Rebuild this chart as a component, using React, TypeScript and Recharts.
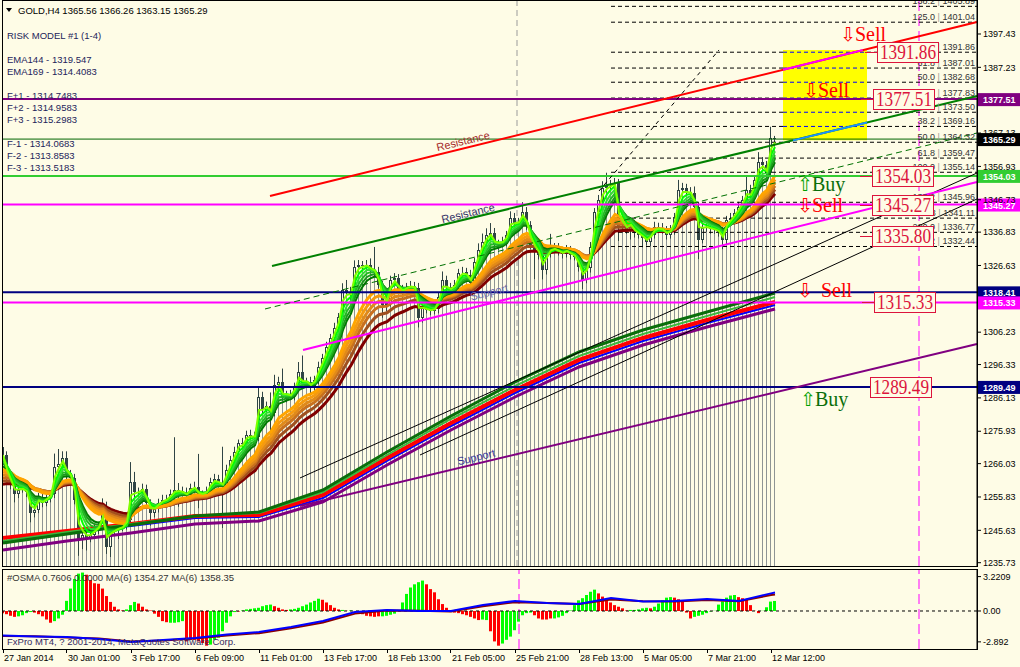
import React from 'react';
import { ComposedChart, Bar, Line, XAxis, YAxis, ReferenceLine, ReferenceArea, ReferenceDot, Cell } from 'recharts';

const BG = '#FEFCE6';
const WICK = '#2F4444';
const FONT = '"Liberation Sans", Arial, sans-serif';
const SERIF = '"Liberation Serif", "Times New Roman", serif';

const Y_MIN = 1234.72;
const Y_MAX = 1407.52;
const X_MIN = -0.25;
const X_MAX = 243.5;

// GOLD H4 candles, bar 0 = 27 Jan 2014 (open of bar n = close of bar n-1)
const firstOpen = 1271.0;
const closes = [
  1268.8, 1262.0, 1259.6, 1256.6, 1258.1, 1258.4, 1257.2, 1251.0, 1252.0, 1255.9, 1254.1, 1255.6, 1256.6, 1265.1, 1266.0, 1267.8,
  1262.6, 1261.7, 1255.0, 1242.8, 1244.3, 1243.4, 1244.3, 1245.9, 1247.1, 1251.4, 1240.4, 1245.2, 1245.9, 1246.5, 1246.8, 1248.9,
  1260.5, 1257.2, 1257.5, 1258.4, 1254.1, 1251.0, 1252.2, 1254.1, 1255.0, 1255.3, 1256.6, 1258.1, 1257.8, 1257.2, 1256.3, 1258.7,
  1259.0, 1256.3, 1256.6, 1257.5, 1260.5, 1261.4, 1260.2, 1259.3, 1264.2, 1267.2, 1269.7, 1272.4, 1272.1, 1274.9, 1274.6, 1274.3,
  1286.5, 1282.5, 1283.8, 1281.6, 1290.2, 1291.1, 1286.2, 1287.1, 1286.8, 1289.6, 1294.1, 1290.8, 1291.1, 1289.6, 1291.7, 1295.7,
  1298.4, 1301.8, 1304.5, 1307.6, 1310.9, 1319.2, 1318.6, 1318.0, 1326.2, 1326.8, 1326.5, 1326.8, 1325.3, 1324.7, 1320.7, 1314.6,
  1315.2, 1322.3, 1322.8, 1319.2, 1318.3, 1320.1, 1320.4, 1319.8, 1310.6, 1313.7, 1313.1, 1312.8, 1313.4, 1317.1, 1322.3, 1320.1,
  1319.2, 1320.7, 1324.4, 1324.7, 1323.8, 1321.3, 1327.8, 1331.4, 1333.9, 1336.0, 1336.6, 1332.9, 1333.3, 1333.9, 1336.0, 1341.2,
  1339.7, 1340.0, 1343.0, 1339.0, 1332.9, 1331.4, 1329.9, 1325.3, 1330.2, 1332.3, 1332.0, 1330.8, 1330.2, 1331.4, 1329.9, 1329.3,
  1326.2, 1322.3, 1325.9, 1332.3, 1343.0, 1346.7, 1350.4, 1351.0, 1351.3, 1351.9, 1338.1, 1338.8, 1337.5, 1339.4, 1336.6, 1336.0,
  1335.1, 1333.9, 1336.0, 1338.5, 1338.1, 1337.5, 1336.0, 1337.5, 1341.5, 1349.8, 1350.4, 1349.1, 1348.8, 1344.6, 1334.5, 1338.1,
  1338.5, 1337.8, 1337.5, 1336.9, 1334.5, 1340.6, 1341.2, 1342.7, 1344.6, 1346.7, 1349.8, 1348.2, 1352.8, 1358.3, 1357.4, 1354.9,
  1365.56, 1365.29,
];
const upWick = [
  4.0, 1.0, 1.5, 1.2, 1.5, 1.0, 1.2, 1.0, 1.5, 1.2, 1.0, 1.5, 1.2, 4.0, 4.5, 2.0,
  2.0, 1.5, 1.2, 1.0, 1.5, 1.2, 1.5, 1.5, 1.2, 4.0, 3.0, 1.2, 1.5, 1.0, 1.2, 1.5,
  6.0, 3.0, 1.2, 1.5, 1.2, 1.0, 1.5, 1.2, 1.5, 1.2, 1.5, 16.0, 2.0, 1.2, 1.5, 1.2,
  1.5, 10.0, 1.2, 1.5, 1.2, 1.5, 1.2, 11.0, 1.5, 1.2, 1.5, 1.0, 1.5, 1.2, 1.5, 1.2,
  3.0, 1.5, 1.2, 4.0, 3.0, 1.5, 4.0, 1.2, 1.5, 1.2, 3.0, 5.0, 1.2, 1.5, 1.2, 1.5,
  1.2, 1.5, 1.2, 1.5, 1.2, 2.0, 3.0, 1.5, 2.0, 1.5, 1.2, 1.5, 2.0, 7.0, 1.5, 1.2,
  1.5, 1.2, 1.5, 1.2, 1.5, 1.2, 1.5, 1.2, 1.5, 1.2, 1.5, 1.2, 1.5, 1.2, 2.5, 1.2,
  1.2, 1.5, 1.2, 1.5, 1.2, 1.5, 1.2, 2.0, 2.5, 2.0, 3.0, 1.5, 1.2, 1.5, 1.2, 2.0,
  1.5, 1.2, 3.0, 1.5, 1.2, 1.5, 1.2, 1.5, 1.2, 4.0, 1.2, 1.5, 1.2, 1.5, 1.2, 1.5,
  1.2, 1.5, 1.2, 1.5, 1.2, 1.5, 2.0, 4.0, 1.5, 1.5, 1.2, 1.5, 1.2, 2.0, 1.2, 1.5,
  1.2, 1.5, 1.2, 1.5, 1.2, 1.5, 1.2, 1.5, 1.2, 3.0, 1.5, 1.2, 1.5, 2.0, 1.2, 1.5,
  1.5, 1.2, 1.5, 1.2, 1.5, 1.2, 1.5, 1.2, 1.5, 1.2, 4.0, 1.5, 1.2, 3.0, 1.5, 1.2,
  3.5, 0.7,
];
const downWick = [
  2.0, 2.0, 1.5, 2.5, 1.2, 1.0, 1.5, 3.0, 1.5, 1.2, 1.5, 1.2, 1.5, 1.2, 1.0, 1.5,
  1.5, 1.2, 1.5, 5.0, 3.0, 4.0, 1.5, 1.2, 1.5, 1.2, 2.0, 3.0, 1.2, 3.0, 1.2, 1.0,
  1.0, 1.5, 1.2, 1.5, 2.0, 4.0, 1.5, 1.2, 1.5, 1.2, 1.0, 1.5, 5.0, 1.2, 1.5, 1.2,
  1.2, 4.0, 1.5, 1.2, 1.5, 1.2, 1.5, 13.0, 1.2, 1.5, 1.2, 1.5, 1.2, 1.5, 1.2, 1.5,
  1.5, 1.2, 1.5, 6.0, 1.2, 1.5, 1.2, 1.5, 1.2, 1.5, 1.2, 1.5, 1.2, 2.0, 1.2, 1.5,
  1.5, 1.2, 1.5, 1.2, 1.5, 1.2, 1.5, 2.0, 1.2, 1.5, 1.2, 1.5, 1.2, 1.5, 1.2, 4.0,
  2.0, 1.2, 1.5, 1.2, 1.5, 1.2, 1.5, 1.2, 3.0, 1.5, 1.2, 1.5, 1.2, 1.5, 1.2, 1.5,
  1.5, 1.2, 1.5, 1.2, 1.5, 1.2, 1.5, 1.2, 1.5, 1.2, 1.5, 1.2, 1.5, 1.2, 1.5, 1.2,
  1.2, 1.5, 1.2, 1.5, 1.2, 9.0, 1.5, 3.0, 1.5, 1.2, 1.5, 1.2, 1.5, 1.2, 1.5, 1.2,
  1.5, 3.0, 1.2, 1.5, 1.2, 1.5, 1.2, 1.5, 1.2, 1.2, 4.0, 1.5, 1.2, 3.0, 1.5, 1.2,
  3.0, 1.2, 1.5, 1.2, 1.5, 1.2, 1.5, 1.2, 1.5, 1.2, 1.5, 1.2, 1.5, 1.2, 6.0, 1.2,
  1.2, 1.5, 1.2, 1.5, 3.0, 1.5, 1.2, 1.5, 1.2, 1.5, 1.2, 1.5, 1.2, 1.5, 1.2, 1.5,
  1.0, 2.14,
];

const timeTicks = [0, 16, 32, 48, 64, 80, 96, 112, 128, 144, 160, 176, 192];
const timeLabels = ['27 Jan 2014', '30 Jan 01:00', '3 Feb 17:00', '6 Feb 09:00', '11 Feb 01:00', '13 Feb 17:00', '18 Feb 13:00',
  '21 Feb 05:00', '25 Feb 21:00', '28 Feb 13:00', '5 Mar 05:00', '7 Mar 21:00', '12 Mar 12:00'];
const priceTicks = [1397.43, 1387.23, 1367.13, 1356.93, 1346.73, 1336.83, 1326.63, 1306.23, 1296.33, 1286.13, 1275.93, 1266.03, 1255.83, 1245.63, 1235.73];

// EMA ribbons (fast green, slower orange), starting values read at bar 0
const greenPeriods = [2, 3, 4, 5, 6, 7];
const greenSeeds = [1268.5, 1268, 1267, 1266, 1265, 1264];
const greenColors = ['#80FF00', '#00FF00', '#33DD33', '#22BB22', '#1A9A1A', '#007A00'];
const orangePeriods = [12, 14, 16, 18, 21, 25];
const orangeSeeds = [1263.5, 1262.6, 1261.7, 1260.8, 1259.9, 1259.0];
const orangeColors = ['#FFA500', '#F59A10', '#E08A1A', '#C8701E', '#A0501E', '#800000'];

// slow ribbon (EMA144/169 family) read every 16 bars
const slowIdx = [0, 16, 32, 48, 64, 80, 96, 112, 128, 144, 160, 176, 193];
const slowGreen = [1241.76, 1244.51, 1247.26, 1250.02, 1251.24, 1257.97, 1269.59, 1280.60, 1291.00, 1300.17, 1306.90, 1312.41, 1318.22];
const slowLime = [1242.37, 1245.12, 1247.57, 1250.02, 1250.94, 1257.36, 1268.67, 1279.68, 1289.77, 1298.95, 1305.68, 1311.18, 1316.99];
const slowRed = [1243.29, 1245.43, 1247.57, 1250.02, 1250.32, 1256.44, 1267.76, 1278.46, 1288.55, 1297.73, 1304.46, 1309.96, 1315.47];
const slowBlue = [1242.06, 1244.82, 1246.97, 1249.41, 1249.71, 1255.52, 1266.84, 1277.54, 1287.63, 1296.81, 1303.54, 1309.04, 1314.55];
const slowPurple = [1239.62, 1242.37, 1244.82, 1247.57, 1248.49, 1254.30, 1265.61, 1276.32, 1286.41, 1295.59, 1302.31, 1307.82, 1313.33];

// horizontal levels
const levelPrices = [1377.51, 1365.29, 1354.03, 1345.27, 1318.41, 1315.33, 1289.49];
const levelColors = ['#800080', '#006400', '#32CD32', '#FF00FF', '#000080', '#FF00FF', '#000080'];
const levelTagBg = ['#800080', '#000000', '#32CD32', '#FF00FF', '#000080', '#FF00FF', '#000080'];

// fibonacci levels
const fibStart = 152;
const fibPrices = [1405.89, 1401.04, 1391.86, 1387.01, 1382.68, 1377.83, 1373.50, 1369.16, 1364.32, 1359.47, 1355.14, 1345.96, 1341.11, 1336.77, 1332.44];
const fibLevels = ['138.2', '125.0', '100.0', '61.8', '50.0', '38.2', '23.6', '38.2', '50.0', '61.8', '100.0', '138.2', '161.8', '200.0', '238.2'];

// highlighted zone
const zoneBars = [195, 216];
const zonePrices = [1364.9, 1392.5];

// trend lines [bar, price]
const redTrend = [[66.75, 1347.88], [243.5, 1401.10]];
const greenTrend = [[67.25, 1326.47], [243.5, 1378.47]];
const greenDashTrend = [[65.5, 1313.33], [243.5, 1367.15]];
const magentaTrend = [[75, 1300.79], [243.5, 1352.19]];
const blackTrendA = [[74.25, 1261.64], [243.5, 1354.92]];
const blackTrendB = [[104.25, 1268.67], [243.5, 1346.97]];
const purpleTrend = [[74.25, 1253.07], [243.5, 1302.62]];
const dashDiagonal = [[149, 1349.41], [179, 1392.54]];

// boxed price tags
const tagPrices = [1391.86, 1377.51, 1354.03, 1345.27, 1335.80, 1315.33, 1289.49];
const tagBars = [218.5, 217.5, 217.25, 217.25, 217.25, 217.75, 216.75];

// signals
const signalText = ['Sell', 'Sell', 'Buy', 'Sell', 'Sell', 'Buy'];
const signalBars = [209.25, 200, 198.5, 198.5, 198.5, 199.25];
const signalPrices = [1395.3, 1378.16, 1349.41, 1342.99, 1316.99, 1283.66];

// line captions
const noteText = ['Resistance', 'Resistance', 'Support', 'Support'];
const noteBars = [115, 116.25, 121.5, 118.25];
const notePrices = [1364.7, 1342.68, 1318.52, 1268.06];
const noteColors = ['#A52A2A', '#333366', '#6A6AAA', '#333399'];

// OSMA sub window
const osma = [
  -0.2, -0.3, -0.45, -0.55, -0.5, -0.4, -0.2, -0.1, -0.15, -0.3, -0.5, -0.8, -1.1, -0.95, -0.7, -0.35,
  0.95, 2.1, 3.0, 3.5, 3.6, 3.4, 2.9, 2.6, 2.55, 2.1, 1.4, 0.85, 0.4, 0.15, 0.05, 0.15,
  0.55, 0.85, 0.7, 0.4, 0.15, 0.05, -0.25, -0.55, -0.95, -1.05, -1.1, -1.1, -1.05, -0.95, -2.85, -2.7,
  -2.7, -2.85, -3.0, -3.25, -3.15, -2.7, -2.5, -1.9, -1.1, -0.5, -0.1, -0.05, 0.05, 0.15, 0.2, 0.25,
  0.3, 0.45, 0.55, 0.6, 0.45, 0.3, 0.15, 0.1, 0.15, 0.2, 0.3, 0.45, 0.6, 0.8, 0.95, 1.15,
  1.05, 0.8, 0.55, 0.3, 0.15, 0.1, 0.02, 0.05, -0.02, -0.15, -0.3, -0.45, -0.5, -0.55, -0.5, -0.5,
  -0.45, -0.35, -0.25, 0.1, 0.8, 1.6, 2.2, 2.5, 2.7, 2.85, 2.5, 2.05, 1.75, 1.1, 0.65, 0.3,
  -0.1, -0.15, -0.2, -0.3, -0.4, -0.55, -0.7, -0.85, -0.8, -0.85, -1.9, -2.85, -3.25, -3.05, -2.7, -2.4,
  -1.8, -1.0, -0.4, -0.2, -0.15, -0.4, -0.7, -0.8, -0.8, -0.7, -0.7, -0.6, -0.45, -0.2, 0.05, 0.55,
  1.0, 1.2, 1.5, 1.8, 2.0, 1.65, 1.35, 1.05, 0.8, 0.55, 0.4, 0.25, 0.05, 0.1, 0.1, 0.15,
  0.25, 0.3, 0.25, 0.4, 0.7, 1.0, 1.25, 1.3, 1.25, 1.1, 0.9, -0.15, -0.7, -0.55, -0.45, -0.35,
  -0.2, -0.05, 0.02, 0.6, 0.9, 1.25, 1.45, 1.5, 1.3, 1.2, 1.05, 0.55, 0.02, -0.2, 0.02, 0.35,
  0.88, 0.94,
];
const osmaUp =
  'rrrrggggrrrrrggg' + 'gggggrrrrrrrrrrg' + 'ggrrrrrrrrggggrr' + 'rrrrgggggggrgggg' +
  'ggggrrrrgggggggg' + 'rrrrrgrgrrrrrrrg' + 'ggggggggggrrrrrr' + 'rrrrrrrrggrrrggg' +
  'gggggrrrrrgggggg' + 'gggggrrrrrrrrggg' + 'ggrgggggrrrrrggg' + 'ggggggggrrrrrrgg' + 'gg';
const maIdx = [0, 8, 16, 24, 32, 40, 48, 56, 64, 72, 80, 88, 96, 104, 112, 120, 128, 136, 144, 152, 160, 168, 176, 184, 192, 193];
const maBlue = [1268.0, 1266.0, 1264.9, 1260.7, 1254.4, 1258.6, 1262.8, 1270.2, 1275.4, 1285.9, 1298.5, 1317.4, 1321.6, 1319.5, 1319.5, 1332.1,
  1340.5, 1336.3, 1334.2, 1346.8, 1339.5, 1340.5, 1344.7, 1340.5, 1356.5, 1358.35];
const maRed = [1267.0, 1266.5, 1264.0, 1261.5, 1255.5, 1257.5, 1261.5, 1268.0, 1273.0, 1283.0, 1295.5, 1314.0, 1320.5, 1320.0, 1318.5, 1329.5,
  1338.0, 1336.5, 1334.0, 1343.5, 1340.0, 1339.5, 1342.5, 1340.0, 1353.0, 1354.27];

function ema(src: number[], period: number, seed: number) {
  const a = 2 / (period + 1);
  let e = seed;
  return src.map((c) => (e += a * (c - e)));
}

function at(line: number[][], i: number) {
  const [[x0, y0], [x1, y1]] = line;
  return y0 + ((y1 - y0) * (i - x0)) / (x1 - x0);
}

function barAt(line: number[][], p: number) {
  const [[x0, y0], [x1, y1]] = line;
  return x0 + ((x1 - x0) * (p - y0)) / (y1 - y0);
}

const greenEma = greenPeriods.map((p, k) => ema(closes, p, greenSeeds[k]));
const orangeEma = orangePeriods.map((p, k) => ema(closes, p, orangeSeeds[k]));

const rows = closes.map((c, i) => {
  const o = i === 0 ? firstOpen : closes[i - 1];
  const row: any = { i, open: o, close: c, high: Math.max(o, c) + upWick[i], low: Math.min(o, c) - downWick[i] };
  greenEma.forEach((s, k) => (row['g' + k] = s[i]));
  orangeEma.forEach((s, k) => (row['o' + k] = s[i]));
  const si = slowIdx.indexOf(i);
  if (si >= 0) {
    row.sGreen = slowGreen[si];
    row.sLime = slowLime[si];
    row.sRed = slowRed[si];
    row.sBlue = slowBlue[si];
    row.sPurple = slowPurple[si];
  }
  return row;
});

const osmaRows = osma.map((v, i) => {
  const row: any = { i, osma: v };
  const k = maIdx.indexOf(i);
  if (k >= 0) {
    row.maBlue = maBlue[k];
    row.maRed = maRed[k];
  }
  return row;
});

const renderStem = (p: any) => {
  const { x, y, width, height } = p;
  if (height == null || isNaN(y)) return <g />;
  const cx = Math.floor(x + width / 2) + 0.5;
  return <line x1={cx} x2={cx} y1={y} y2={y + height} stroke="#8E9494" strokeWidth={1} />;
};

const renderCandle = (p: any) => {
  const { x, y, width, height, payload } = p;
  if (!payload || height == null || isNaN(y)) return <g />;
  const { open, close, high, low } = payload;
  const k = height / (high - low);
  const py = (v: number) => y + (high - v) * k;
  const cx = Math.floor(x + width / 2);
  const top = Math.round(py(Math.max(open, close)));
  const bot = Math.round(py(Math.min(open, close)));
  const bull = close >= open;
  return (
    <g>
      <line x1={cx + 0.5} x2={cx + 0.5} y1={y} y2={y + height} stroke={WICK} strokeWidth={1} />
      {bull ? (
        <rect x={cx - 0.5} y={top + 0.5} width={2} height={Math.max(bot - top - 1, 0)} fill={BG} stroke={WICK} strokeWidth={1} />
      ) : (
        <rect x={cx - 1} y={top} width={3} height={Math.max(bot - top, 1)} fill={WICK} />
      )}
    </g>
  );
};

const AxisTag = (props: any) => {
  const { viewBox, text, bg } = props;
  if (!viewBox) return null;
  const right = viewBox.x + viewBox.width;
  return (
    <g>
      <rect x={right + 1} y={viewBox.y - 6} width={43} height={13} fill={bg} />
      <text x={right + 6} y={viewBox.y + 4} fill="#FFFFFF" fontSize={9} fontWeight="bold" fontFamily={FONT}>{text}</text>
    </g>
  );
};

const segment = (line: number[][]) => [
  { x: line[0][0], y: line[0][1] },
  { x: line[1][0], y: line[1][1] },
];

const TimeTick = (p: any) => {
  const { x, y, payload } = p;
  const k = timeTicks.indexOf(payload.value);
  return (
    <g>
      <line x1={Math.floor(x) + 0.5} x2={Math.floor(x) + 0.5} y1={y} y2={y + 4} stroke="#000" />
      <text x={x + 1} y={y + 12} fontSize={9} fontFamily={FONT} fill="#000">{timeLabels[k]}</text>
    </g>
  );
};

export default function App() {
  const greenIn = barAt(greenTrend, zonePrices[0]);
  const redOut = Math.min(zoneBars[1], barAt(redTrend, zonePrices[1]));
  return (
    <div style={{ position: 'absolute', left: 0, top: 0, width: 1020, height: 667, background: BG, overflow: 'hidden' }}>
      <div style={{ position: 'absolute', left: 0, top: 0 }}>
        <ComposedChart width={1020} height={569} data={rows} margin={{ top: 1, right: 0, bottom: 3, left: 2 }}>
          <XAxis type="number" dataKey="i" domain={[X_MIN, X_MAX]} hide allowDataOverflow />
          <XAxis xAxisId="stem" type="number" dataKey="i" domain={[X_MIN, X_MAX]} hide allowDataOverflow />
          <YAxis orientation="right" width={43} domain={[Y_MIN, Y_MAX]} allowDataOverflow ticks={priceTicks} interval={0}
            tick={{ fill: '#000', fontSize: 9, fontFamily: FONT }} tickSize={4} tickMargin={2}
            axisLine={{ stroke: '#000' }} tickLine={{ stroke: '#000' }} tickFormatter={(v: number) => v.toFixed(2)} />

          <ReferenceArea x1={zoneBars[0]} x2={zoneBars[1]} y1={zonePrices[0]} y2={zonePrices[1]} fill="#FFFF00" fillOpacity={1} stroke="none" />
          <ReferenceLine x={128.5} stroke="#9A9A9A" strokeDasharray="6 4" />
          <ReferenceLine x={229} stroke="#FF00FF" strokeDasharray="10 5" />

          {fibPrices.map((p, k) => {
            const inZone = p > zonePrices[0] && p < zonePrices[1];
            return inZone ? (
              <React.Fragment key={'fib' + k}>
                <ReferenceLine segment={[{ x: fibStart, y: p }, { x: zoneBars[0], y: p }]} stroke="#000" strokeDasharray="4 3" />
                <ReferenceLine segment={[{ x: zoneBars[0], y: p }, { x: zoneBars[1], y: p }]} stroke="#0000FF" strokeDasharray="4 3" />
                <ReferenceLine segment={[{ x: zoneBars[1], y: p }, { x: X_MAX, y: p }]} stroke="#000" strokeDasharray="4 3" />
              </React.Fragment>
            ) : (
              <ReferenceLine key={'fib' + k} segment={[{ x: fibStart, y: p }, { x: X_MAX, y: p }]} stroke="#000" strokeDasharray="4 3" />
            );
          })}
          {fibPrices.map((p, k) => (
            <ReferenceDot key={'fl' + k} x={X_MAX - 0.5} y={p} r={0} ifOverflow="visible"
              shape={(s: any) => (
                <text x={s.cx} y={s.cy - 2} textAnchor="end" fontSize={9} fontFamily={FONT} fill="#333">
                  {fibLevels[k]} <tspan fill="#999">|</tspan> {p.toFixed(2)}
                </text>
              )} />
          ))}

          <Bar xAxisId="stem" dataKey={(d: any) => [Y_MIN, d.low]} barSize={3} shape={renderStem} isAnimationActive={false} />

          <Line dataKey="sPurple" stroke="#800080" strokeWidth={3} dot={false} connectNulls isAnimationActive={false} />
          <Line dataKey="sBlue" stroke="#0000FF" strokeWidth={2} dot={false} connectNulls isAnimationActive={false} />
          <Line dataKey="sRed" stroke="#FF0000" strokeWidth={4} dot={false} connectNulls isAnimationActive={false} />
          <Line dataKey="sLime" stroke="#3CB83C" strokeWidth={2} dot={false} connectNulls isAnimationActive={false} />
          <Line dataKey="sGreen" stroke="#0A6E0A" strokeWidth={3} dot={false} connectNulls isAnimationActive={false} />

          {orangePeriods.map((_, k) => orangePeriods.length - 1 - k).map((k) => (
            <Line key={'o' + k} dataKey={'o' + k} stroke={orangeColors[k]} strokeWidth={3} dot={false} isAnimationActive={false} />
          ))}
          {greenPeriods.map((_, k) => greenPeriods.length - 1 - k).map((k) => (
            <Line key={'g' + k} dataKey={'g' + k} stroke={greenColors[k]} strokeWidth={2} dot={false} isAnimationActive={false} />
          ))}

          <Bar dataKey={(d: any) => [d.low, d.high]} barSize={3} shape={renderCandle} isAnimationActive={false} />

          {levelPrices.map((p, k) => (
            <ReferenceLine key={'lv' + k} y={p} stroke={levelColors[k]} strokeWidth={k === 1 ? 1 : 2}
              label={<AxisTag text={p.toFixed(2)} bg={levelTagBg[k]} />} />
          ))}

          <ReferenceLine segment={segment(purpleTrend)} stroke="#800080" strokeWidth={2} />
          <ReferenceLine segment={segment(blackTrendA)} stroke="#000" strokeWidth={1} />
          <ReferenceLine segment={segment(blackTrendB)} stroke="#000" strokeWidth={1} />
          <ReferenceLine segment={segment(magentaTrend)} stroke="#FF00FF" strokeWidth={2} />
          <ReferenceLine segment={segment(greenDashTrend)} stroke="#007000" strokeWidth={1} strokeDasharray="6 4" />
          <ReferenceLine segment={segment(greenTrend)} stroke="#008000" strokeWidth={2} />
          <ReferenceLine segment={segment(redTrend)} stroke="#FF0000" strokeWidth={2} />
          <ReferenceLine segment={segment(dashDiagonal)} stroke="#000" strokeWidth={1} strokeDasharray="4 4" />
          <ReferenceLine segment={[{ x: zoneBars[0], y: at(redTrend, zoneBars[0]) }, { x: redOut, y: at(redTrend, redOut) }]} stroke="#FF00FF" strokeWidth={2} />
          <ReferenceLine segment={[{ x: greenIn, y: at(greenTrend, greenIn) }, { x: zoneBars[1], y: at(greenTrend, zoneBars[1]) }]} stroke="#1E90FF" strokeWidth={2} />

          {noteText.map((t, k) => (
            <ReferenceDot key={'n' + k} x={noteBars[k]} y={notePrices[k]} r={0} ifOverflow="visible"
              shape={(s: any) => (
                <text x={s.cx} y={s.cy + 4} textAnchor="middle" fontSize={11} fontFamily={FONT} fill={noteColors[k]}
                  transform={`rotate(-13.5 ${s.cx} ${s.cy})`}>{t}</text>
              )} />
          ))}

          {signalText.map((t, k) => {
            const sell = t === 'Sell';
            const col = sell ? '#FF0000' : '#0A6E0A';
            return (
              <ReferenceDot key={'s' + k} x={signalBars[k]} y={signalPrices[k]} r={0} ifOverflow="visible"
                shape={(s: any) => (
                  <text x={s.cx} y={s.cy} fontSize={20} fontFamily={SERIF} fill={col}>
                    <tspan fontFamily='"DejaVu Sans", sans-serif' fontSize={19} fill={sell ? '#FF0000' : '#00A000'}>{sell ? '⇩' : '⇧'}</tspan>
                    <tspan dx={k === 4 ? 8 : -1}>{t}</tspan>
                  </text>
                )} />
            );
          })}

          {tagPrices.map((p, k) => (
            <ReferenceDot key={'t' + k} x={tagBars[k]} y={p} r={0} ifOverflow="visible"
              shape={(s: any) => (
                <g>
                  {k < 6 && <line x1={s.cx - 12} x2={s.cx} y1={Math.round(s.cy) + 0.5} y2={Math.round(s.cy) + 0.5} stroke="#DC143C" />}
                  <rect x={Math.round(s.cx) + 0.5} y={Math.round(s.cy) - 9.5} width={61} height={20} fill={BG} stroke="#DC143C" />
                  <text x={s.cx + 3} y={s.cy + 7} fontSize={21} fontFamily={SERIF} fill="#DC143C" textLength={56} lengthAdjust="spacingAndGlyphs">
                    {p.toFixed(2)}
                  </text>
                </g>
              )} />
          ))}
        </ComposedChart>
      </div>

      <div style={{ position: 'absolute', left: 0, top: 569 }}>
        <ComposedChart width={1020} height={98} data={osmaRows} margin={{ top: 1, right: 0, bottom: 0, left: 2 }}>
          <XAxis type="number" dataKey="i" domain={[X_MIN, X_MAX]} allowDataOverflow ticks={timeTicks} interval={0} height={18}
            axisLine={false} tickLine={false} tickSize={0} tickMargin={0} tick={TimeTick} />
          <YAxis yAxisId="osma" orientation="right" width={43} domain={[-3.56, 3.84]} allowDataOverflow ticks={[3.2209, 0, -2.892]} interval={0}
            tick={{ fill: '#000', fontSize: 9, fontFamily: FONT }} tickSize={4} tickMargin={2}
            axisLine={{ stroke: '#000' }} tickLine={{ stroke: '#000' }}
            tickFormatter={(v: number) => (v === 0 ? '0.00' : String(v))} />
          <YAxis yAxisId="ma" hide domain={[1239.7, 1405.6]} allowDataOverflow />
          <ReferenceLine yAxisId="osma" x={129} stroke="#FF00FF" strokeDasharray="10 5" />
          <ReferenceLine yAxisId="osma" x={229} stroke="#FF00FF" strokeDasharray="10 5" />
          <Bar yAxisId="osma" dataKey="osma" barSize={3} isAnimationActive={false}>
            {osmaRows.map((r, k) => (
              <Cell key={k} fill={osmaUp[k] === 'g' ? '#00FF00' : '#FF0000'} />
            ))}
          </Bar>
          <ReferenceLine yAxisId="osma" y={0} stroke="#000" strokeDasharray="3 3" />
          <Line yAxisId="ma" dataKey="maRed" stroke="#8B0000" strokeWidth={2} dot={false} connectNulls isAnimationActive={false} />
          <Line yAxisId="ma" dataKey="maBlue" stroke="#0000FF" strokeWidth={2} dot={false} connectNulls isAnimationActive={false} />
        </ComposedChart>
      </div>

      <div style={{ position: 'absolute', left: 2, top: 0, width: 976, height: 567, border: '1px solid #000', boxSizing: 'border-box', pointerEvents: 'none' }} />
      <div style={{ position: 'absolute', left: 2, top: 569, width: 976, height: 81, border: '1px solid #000', boxSizing: 'border-box', pointerEvents: 'none' }} />

      <svg width={1020} height={667} style={{ position: 'absolute', left: 0, top: 0, pointerEvents: 'none' }}>
        <g fontFamily={FONT} fontSize={9.5}>
          <polygon points="6,8 12,8 9,12" fill="#000" />
          <text x={18} y={14} fill="#000">GOLD,H4  1365.56 1366.26 1363.15 1365.29</text>
          <text x={7} y={39} fill="#23235A">RISK MODEL #1 (1-4)</text>
          <text x={7} y={63} fill="#23235A">EMA144 - 1319.547</text>
          <text x={7} y={75} fill="#23235A">EMA169 - 1314.4083</text>
          <text x={7} y={99} fill="#23235A">F+1 - 1314.7483</text>
          <text x={7} y={111} fill="#23235A">F+2 - 1314.9583</text>
          <text x={7} y={123} fill="#23235A">F+3 - 1315.2983</text>
          <text x={7} y={147} fill="#23235A">F-1 - 1314.0683</text>
          <text x={7} y={159} fill="#23235A">F-2 - 1313.8583</text>
          <text x={7} y={171} fill="#23235A">F-3 - 1313.5183</text>
          <text x={7} y={581} fill="#333">#OSMA 0.7606 0.0000  MA(6) 1354.27  MA(6) 1358.35</text>
          <text x={7} y={645} fill="#352A60">FxPro MT4, ? 2001-2014, MetaQuotes Software Corp.</text>
        </g>
      </svg>
    </div>
  );
}
